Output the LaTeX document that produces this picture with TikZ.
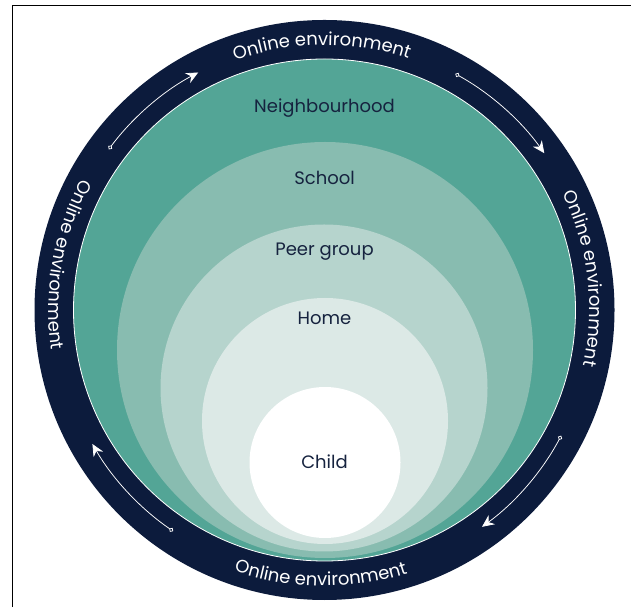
\documentclass[tikz,border=0pt]{standalone}
\usepackage{fontspec}
\setmainfont{Poppins}
\usetikzlibrary{decorations.text, arrows.meta}
\definecolor{navy}{HTML}{0C1B3C}
\definecolor{inknavy}{HTML}{16233F}
\definecolor{tealA}{HTML}{53A596}
\definecolor{tealB}{HTML}{88BCB0}
\definecolor{tealC}{HTML}{B6D4CD}
\definecolor{tealD}{HTML}{DCE9E6}
\tikzset{
  layer/.style={circle, inner sep=0pt, outer sep=0pt},
  lbl/.style={anchor=base, text=inknavy, font=\fontsize{18}{20}\selectfont, inner sep=0pt},
  flow/.style={draw=white, line width=0.75pt,
    {Circle[open, length=4.5pt, width=4.5pt]}-{Stealth[length=12pt, width=11pt, inset=4pt, fill=white]}},
  ringtext/.style={decorate, decoration={text along path, text align=center,
    text color=white, text={|\fontsize{18}{20}\selectfont|Online environment}}}
}
\begin{document}
\begin{tikzpicture}[x=1pt, y=1pt]
\useasboundingbox (0,0) rectangle (631,607);
% frame
\draw[line width=1pt, black] (12.5,0) -- (12.5,601) -- (631,601);
% centre of the ring
\coordinate (C) at (324.5,297);
% layers
\node[layer, fill=navy, minimum size=580pt] (ring) at (C) {};
\node[layer, fill=tealA, draw=white, line width=0.8pt, minimum size=502pt] (nbh) at (324.5,297) {};
\node[layer, fill=tealB, minimum size=416pt] (school) at (325,257) {};
\node[layer, fill=tealC, minimum size=327pt] (peer) at (324,219) {};
\node[layer, fill=tealD, minimum size=246pt] (home) at (325,186) {};
\node[layer, fill=white, minimum size=151pt] (child) at (325,144.5) {};
% labels
\node[lbl] (tN) at (324.5,494) {Neighbourhood};
\node[lbl] (tS) at (324.5,422.5) {School};
\node[lbl] (tP) at (324.5,351.5) {Peer group};
\node[lbl] (tH) at (324.5,282) {Home};
\node[lbl] (tC) at (324.5,138) {Child};
% ring texts
\path[ringtext] (C) ++(120.6:265) arc[start angle=120.6, end angle=60.6, radius=265];
\path[ringtext] (C) ++(37:265) arc[start angle=37, end angle=-23, radius=265];
\path[ringtext] (C) ++(239.2:276) arc[start angle=239.2, end angle=299.2, radius=276];
\path[ringtext] (C) ++(140:276) arc[start angle=140, end angle=200, radius=276];
% flow arrows
\draw[flow] (C) ++(143.3:269) arc[start angle=143.3, end angle=118, radius=269];
\draw[flow] (C) ++(61:270) arc[start angle=61, end angle=35.5, radius=270];
\draw[flow] (C) ++(-28:268) arc[start angle=-28, end angle=-54, radius=268];
\draw[flow] (C) ++(235.6:268) arc[start angle=235.6, end angle=210, radius=268];
\end{tikzpicture}
\end{document}
